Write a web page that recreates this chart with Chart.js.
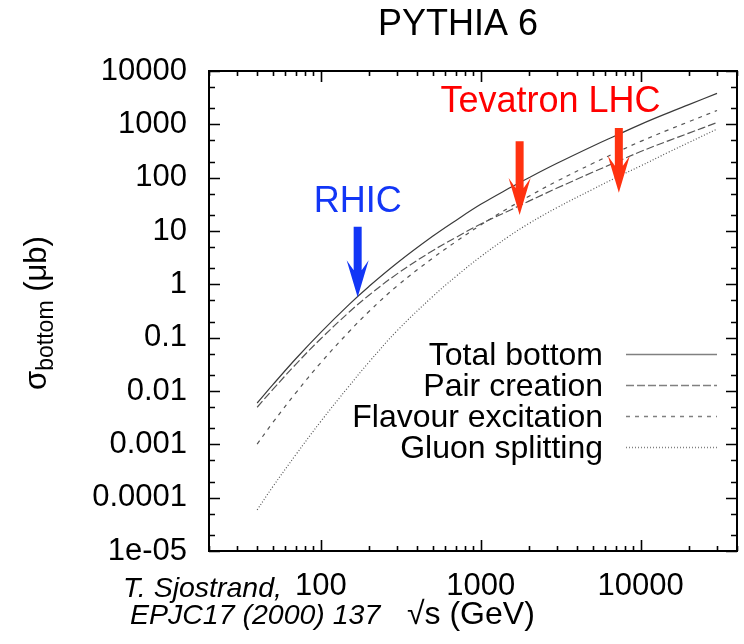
<!DOCTYPE html>
<html>
<head>
<meta charset="utf-8">
<script src="https://cdn.jsdelivr.net/npm/chart.js@4"></script>
<style>
  html, body { margin: 0; padding: 0; background: #fff; }
</style>
</head>
<body>
<canvas id="chart" width="744" height="644"></canvas>
<script>
// sqrt(s) in GeV
const energies = [40, 50, 70, 100, 150, 200, 300, 500, 700, 1000, 1500, 2000, 3000, 5000, 7000, 10000, 15000, 20000, 30000];

// b-quark cross sections in microbarn
const sigmaTotal   = [0.00596, 0.0130, 0.0407, 0.126, 0.417, 0.912, 2.51, 7.94, 15.8, 31.6, 63.1, 100, 186, 389, 617, 1000, 1660, 2340, 3800];
const sigmaPair    = [0.00496, 0.0106, 0.0320, 0.0955, 0.299, 0.624, 1.57, 4.27, 7.59, 13.5, 24.0, 36.3, 63.8, 126, 195, 309, 496, 684, 1080];
const sigmaFlavour = [0.00101, 0.00254, 0.00933, 0.0339, 0.129, 0.309, 0.933, 3.09, 6.31, 13.0, 27.2, 44.7, 86.1, 184, 295, 479, 794, 1120, 1820];
const sigmaGluon   = [0.0000589, 0.000159, 0.000646, 0.00269, 0.0123, 0.0347, 0.135, 0.589, 1.41, 3.31, 7.94, 13.8, 27.5, 60.3, 100, 166, 302, 457, 813];

const seriesNames = ['Total bottom', 'Pair creation', 'Flavour excitation', 'Gluon splitting'];

const xTickValues = [100, 1000, 10000];
const xTickLabels = ['100', '1000', '10000'];
const yTickValues = [1e-5, 1e-4, 1e-3, 0.01, 0.1, 1, 10, 100, 1000, 10000];
const yTickLabels = ['1e-05', '0.0001', '0.001', '0.01', '0.1', '1', '10', '100', '1000', '10000'];

// collider arrows: energy, sigma at the tail and at the tip
const arrowEnergy = [170, 1750, 7300];
const arrowFrom   = [12, 480, 850];
const arrowTo     = [0.57, 20, 52];
const arrowColor  = ['#1236f6', '#ff3210', '#ff3210'];

const noteText   = ['RHIC', 'Tevatron LHC'];
const noteEnergy = [170, 13300];
const noteSigma  = [23, 1680];
const noteAlign  = ['center', 'right'];
const noteColor  = ['#1236f6', '#ff0000'];

// line styles
const seriesDash  = [[], [8, 3], [4, 5], [1, 2]];
const seriesColor = ['#3a3a3a', '#555555', '#555555', '#555555'];

const FONT = '"Liberation Sans", Arial, Helvetica, sans-serif';
Chart.defaults.font.family = FONT;
Chart.defaults.color = '#000';

const decadeKey = v => Math.round(Math.log10(v) * 1000);

function minorTicks(min, max, steps) {
  const out = [];
  for (let e = Math.floor(Math.log10(min)); e <= Math.ceil(Math.log10(max)); e++) {
    steps.forEach(s => {
      const v = s * Math.pow(10, e);
      if (v >= min * 0.999 && v <= max * 1.001) out.push({ value: v, major: s === 1 });
    });
  }
  return out;
}

function drawArrow(ctx, x, yTop, yTip, color) {
  const shaft = 4, barb = 11, head = 37, notch = 10;
  ctx.fillStyle = color;
  ctx.beginPath();
  ctx.moveTo(x - shaft, yTop);
  ctx.lineTo(x + shaft, yTop);
  ctx.lineTo(x + shaft, yTip - head + notch);
  ctx.lineTo(x + barb, yTip - head);
  ctx.lineTo(x, yTip);
  ctx.lineTo(x - barb, yTip - head);
  ctx.lineTo(x - shaft, yTip - head + notch);
  ctx.closePath();
  ctx.fill();
}

const frame = {
  id: 'frame',
  afterDraw(chart) {
    const { ctx, chartArea: a, scales: { x, y } } = chart;
    ctx.save();

    // inward ticks on all four sides
    ctx.strokeStyle = '#000';
    ctx.lineWidth = 1.6;
    ctx.beginPath();
    x.ticks.forEach(t => {
      const px = Math.round(x.getPixelForValue(t.value)) + 0.5;
      const len = t.major ? 11 : 5;
      ctx.moveTo(px, a.bottom); ctx.lineTo(px, a.bottom - len);
      ctx.moveTo(px, a.top); ctx.lineTo(px, a.top + len);
    });
    y.ticks.forEach(t => {
      const py = Math.round(y.getPixelForValue(t.value)) + 0.5;
      const len = t.major ? 11 : 6;
      ctx.moveTo(a.left, py); ctx.lineTo(a.left + len, py);
      ctx.moveTo(a.right, py); ctx.lineTo(a.right - len, py);
    });
    ctx.stroke();

    ctx.lineWidth = 2;
    ctx.strokeRect(a.left, a.top, a.right - a.left, a.bottom - a.top);

    // legend
    ctx.font = `32px ${FONT}`;
    ctx.textAlign = 'right';
    ctx.textBaseline = 'alphabetic';
    chart.data.datasets.forEach((ds, i) => {
      const ly = a.top + 283 + i * 31;
      ctx.fillStyle = '#000';
      ctx.fillText(ds.label, a.right - 134, ly + 11);
      ctx.strokeStyle = '#808080';
      ctx.lineWidth = 1.3;
      ctx.setLineDash(ds.borderDash);
      ctx.beginPath();
      ctx.moveTo(a.right - 111, ly + 0.5);
      ctx.lineTo(a.right - 20, ly + 0.5);
      ctx.stroke();
    });
    ctx.setLineDash([]);

    // collider arrows and labels
    arrowEnergy.forEach((e, i) => {
      drawArrow(ctx, x.getPixelForValue(e), y.getPixelForValue(arrowFrom[i]),
        y.getPixelForValue(arrowTo[i]), arrowColor[i]);
    });
    ctx.font = `36px ${FONT}`;
    noteText.forEach((t, i) => {
      ctx.fillStyle = noteColor[i];
      ctx.textAlign = noteAlign[i];
      ctx.fillText(t, x.getPixelForValue(noteEnergy[i]), y.getPixelForValue(noteSigma[i]));
    });

    // title
    ctx.fillStyle = '#000';
    ctx.textAlign = 'center';
    ctx.font = `36px ${FONT}`;
    ctx.fillText('PYTHIA 6', 458, 35);

    // y axis title: sigma with subscript
    ctx.save();
    ctx.translate(46, 313);
    ctx.rotate(-Math.PI / 2);
    ctx.textAlign = 'left';
    ctx.font = `31px ${FONT}`;
    const w1 = ctx.measureText('σ').width;
    const w3 = ctx.measureText(' (μb)').width;
    ctx.font = `23px ${FONT}`;
    const w2 = ctx.measureText('bottom').width;
    const x0 = -(w1 + w2 + w3) / 2;
    ctx.font = `31px ${FONT}`;
    ctx.fillText('σ', x0, 0);
    ctx.fillText(' (μb)', x0 + w1 + w2, 0);
    ctx.font = `23px ${FONT}`;
    ctx.fillText('bottom', x0 + w1, 7);
    ctx.restore();

    // x axis title and reference
    ctx.textAlign = 'left';
    ctx.font = `32px ${FONT}`;
    ctx.fillText('√s (GeV)', 407, 624);
    ctx.font = `italic 28.5px ${FONT}`;
    ctx.fillText('T. Sjostrand,', 123, 597);
    ctx.fillText('EPJC17 (2000) 137', 130, 624);

    ctx.restore();
  }
};

const seriesData = [sigmaTotal, sigmaPair, sigmaFlavour, sigmaGluon];

new Chart(document.getElementById('chart'), {
  type: 'line',
  data: {
    datasets: seriesData.map((vals, i) => ({
      label: seriesNames[i],
      data: energies.map((e, k) => ({ x: e, y: vals[k] })),
      borderColor: seriesColor[i],
      borderWidth: 1.2,
      borderDash: seriesDash[i],
      pointRadius: 0,
      fill: false,
      tension: 0.4,
    })),
  },
  options: {
    responsive: false,
    animation: false,
    devicePixelRatio: 1,
    layout: { padding: { top: 71, right: 7, left: 0, bottom: 0 } },
    plugins: { legend: { display: false }, tooltip: { enabled: false } },
    scales: {
      x: {
        type: 'logarithmic',
        min: 20, max: 40000,
        grid: { display: false, drawTicks: false },
        border: { display: false },
        afterBuildTicks: s => { s.ticks = minorTicks(20, 40000, [1, 2, 3, 4, 5, 6, 7, 8, 9]); },
        afterFit: s => { s.height = 93; s.paddingLeft = 0; s.paddingRight = 0; },
        ticks: {
          autoSkip: false, maxRotation: 0, padding: 17,
          font: { size: 31 },
          callback: v => {
            const k = xTickValues.findIndex(t => decadeKey(t) === decadeKey(v));
            return k >= 0 ? xTickLabels[k] : '';
          },
        },
      },
      y: {
        type: 'logarithmic',
        min: 1e-5, max: 10000,
        grid: { display: false, drawTicks: false },
        border: { display: false },
        afterBuildTicks: s => { s.ticks = minorTicks(1e-5, 10000, [1, 2, 5]); },
        afterFit: s => { s.width = 209; },
        ticks: {
          autoSkip: false, padding: 22,
          font: { size: 31 },
          callback: v => {
            const k = yTickValues.findIndex(t => decadeKey(t) === decadeKey(v));
            return k >= 0 ? yTickLabels[k] : '';
          },
        },
      },
    },
  },
  plugins: [frame],
});
</script>
</body>
</html>
